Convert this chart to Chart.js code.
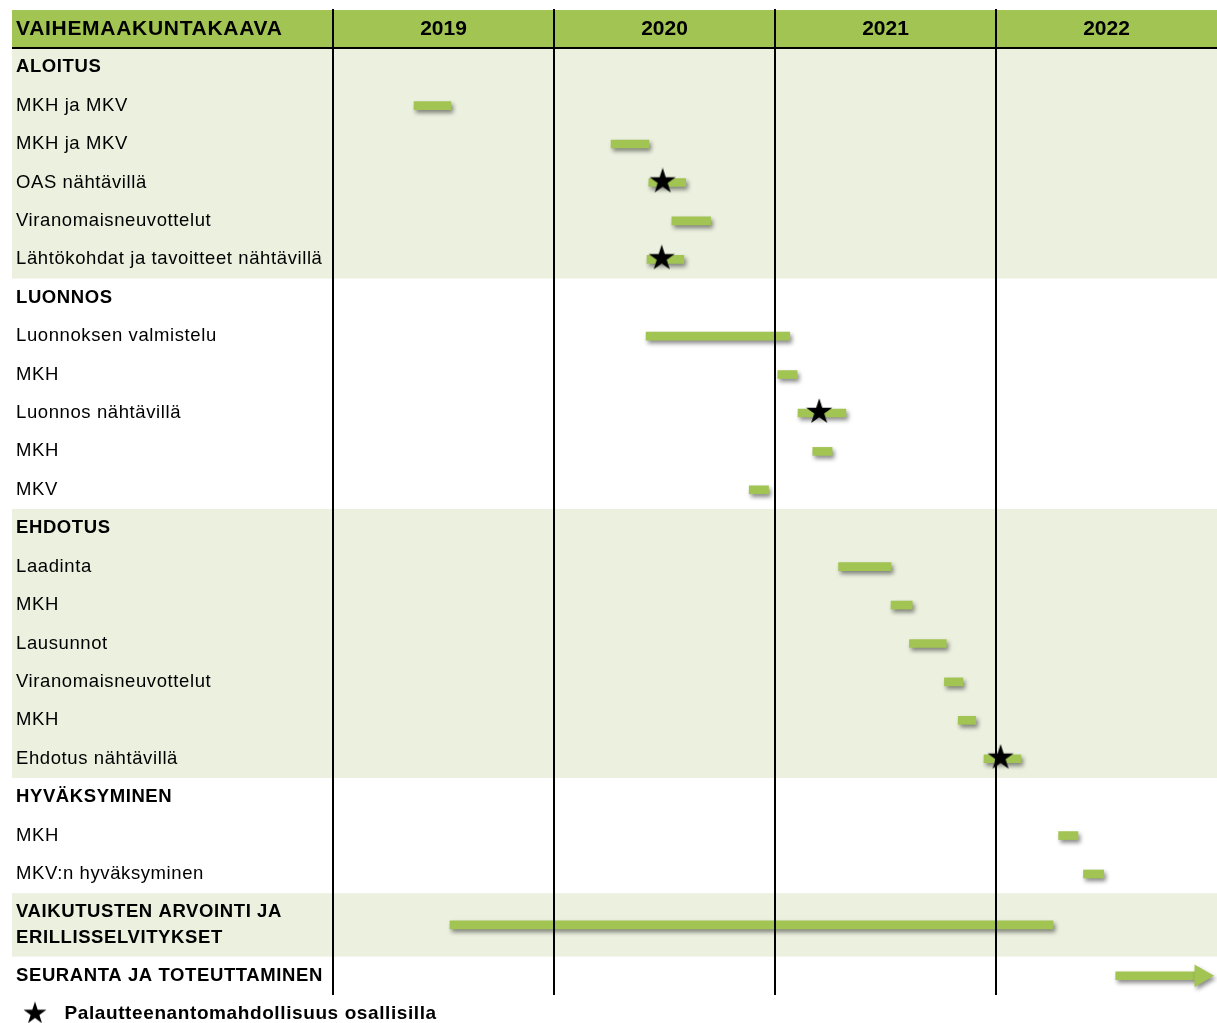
<!DOCTYPE html>
<html>
<head>
<meta charset="utf-8">
<script src="https://cdn.jsdelivr.net/npm/chart.js@4.4.1/dist/chart.umd.min.js"></script>
<style>
  html, body { margin: 0; padding: 0; background: #fff; overflow: hidden; }
  canvas { display: block; }
</style>
</head>
<body>
<canvas id="gantt" width="1217" height="1023"></canvas>
<script>
// x values are months counted from the start of 2019
const years = ['2019', '2020', '2021', '2022'];
const rowLabels = [
    'ALOITUS', 'MKH ja MKV', 'MKH ja MKV', 'OAS nähtävillä', 'Viranomaisneuvottelut', 'Lähtökohdat ja tavoitteet nähtävillä',
    'LUONNOS', 'Luonnoksen valmistelu', 'MKH', 'Luonnos nähtävillä', 'MKH', 'MKV',
    'EHDOTUS', 'Laadinta', 'MKH', 'Lausunnot', 'Viranomaisneuvottelut', 'MKH', 'Ehdotus nähtävillä',
    'HYVÄKSYMINEN', 'MKH', 'MKV:n hyväksyminen',
    ['VAIKUTUSTEN ARVOINTI JA', 'ERILLISSELVITYKSET'],
    'SEURANTA JA TOTEUTTAMINEN'
];
const sectionRows = [0, 6, 12, 19, 22, 23];
const barStart = [null, 4.4, 15.1, 17.15, 18.4, 17.05, null, 17.0, 24.15, 25.25, 26.05, 22.6,
    null, 27.45, 30.3, 31.3, 33.2, 33.95, 35.35, null, 39.4, 40.75, 6.35, 42.5];
const barEnd = [null, 6.4, 17.15, 19.15, 20.5, 19.05, null, 24.8, 25.2, 27.85, 27.1, 23.65,
    null, 30.3, 31.45, 33.3, 34.2, 34.9, 37.35, null, 40.45, 41.85, 39.1, 46.8];
const feedbackAt = [null, null, null, 17.9, null, 17.85, null, null, null, 26.4, null, null,
    null, null, null, null, null, null, 36.25, null, null, null, null, null];
const arrowHeadAt = 47.13;   // SEURANTA arrow head
const legendText = 'Palautteenantomahdollisuus osallisilla';

const FONT = '"Liberation Sans", Arial, sans-serif';
const GREEN = '#a2c453';
const BAND = '#ebf0df';

// row layout: two-line labels get a taller row
const rowSize = rowLabels.map(l => Array.isArray(l) ? 1.65 : 1);
const rowTop = [];
let total = 0;
rowSize.forEach(s => { rowTop.push(total); total += s; });
const rowCenter = rowTop.map((t, i) => t + rowSize[i] / 2);

function makeStar(w, h, cx, cy, r) {
    const c = document.createElement('canvas');
    c.width = w;
    c.height = h;
    const g = c.getContext('2d');
    g.beginPath();
    for (let i = 0; i < 10; i++) {
        const rad = i % 2 ? r * 0.382 : r;
        const a = -Math.PI / 2 + i * Math.PI / 5;
        g.lineTo(cx + rad * Math.cos(a), cy + rad * Math.sin(a));
    }
    g.closePath();
    g.fillStyle = '#000';
    g.fill();
    return c;
}
const starImg = makeStar(30, 30, 15, 14, 13.7);
const legendStar = makeStar(40, 30, 15, 15, 12);

const barData = [];
const starData = [];
rowLabels.forEach((l, i) => {
    if (barStart[i] !== null) barData.push({ x: [barStart[i], barEnd[i]], y: rowCenter[i] });
    if (feedbackAt[i] !== null) starData.push({ x: feedbackAt[i], y: rowCenter[i] });
});

const backdrop = {
    id: 'backdrop',
    beforeDraw(chart) {
        const { ctx, scales: { y } } = chart;
        ctx.save();
        sectionRows.forEach((r, k) => {
            if (k % 2) return;
            const next = sectionRows[k + 1];
            const top = y.getPixelForValue(rowTop[r]);
            const bottom = y.getPixelForValue(next === undefined ? total : rowTop[next]);
            ctx.fillStyle = BAND;
            ctx.fillRect(12, top, chart.width - 12, bottom - top);
        });
        const head = y.getPixelForValue(0);
        ctx.fillStyle = GREEN;
        ctx.fillRect(12, 10, chart.width - 12, head - 11);
        ctx.fillStyle = '#000';
        ctx.fillRect(12, head - 1, chart.width - 12, 2);
        ctx.font = 'bold 21px ' + FONT;
        ctx.letterSpacing = '0.7px';
        ctx.textBaseline = 'middle';
        ctx.fillText('VAIHEMAAKUNTAKAAVA', 16, 29);
        ctx.restore();
        ctx.letterSpacing = '0.6px';   // row labels and legend
    },
    afterDatasetsDraw(chart) {
        chart.ctx.letterSpacing = '0px';   // years
    },
    beforeDatasetDraw(chart, args) {
        if (chart.data.datasets[args.index].label === legendText) return;
        const ctx = chart.ctx;
        ctx.save();
        ctx.shadowColor = 'rgba(0,0,0,0.45)';
        ctx.shadowBlur = 4;
        ctx.shadowOffsetX = 2;
        ctx.shadowOffsetY = 3;
    },
    afterDatasetDraw(chart, args) {
        if (chart.data.datasets[args.index].label === legendText) return;
        chart.ctx.restore();
    }
};

new Chart(document.getElementById('gantt'), {
    type: 'bar',
    data: {
        datasets: [
            {
                type: 'bar', label: 'vaiheet', indexAxis: 'y', data: barData,
                backgroundColor: GREEN, borderWidth: 0, barThickness: 8, order: 2
            },
            {
                type: 'scatter', label: legendText, data: starData,
                pointStyle: starImg, pointRadius: 14, order: 0
            },
            {
                type: 'scatter', label: 'nuoli', data: [{ x: arrowHeadAt, y: rowCenter[23] }],
                pointStyle: 'triangle', rotation: 90, pointRadius: 13,
                backgroundColor: GREEN, borderWidth: 0, order: 1
            }
        ]
    },
    options: {
        responsive: false,
        animation: false,
        events: [],
        // the 2022 column runs slightly past the right edge
        layout: { autoPadding: false, padding: { left: 16, right: -3, top: 9, bottom: 0 } },
        scales: {
            x: {
                type: 'linear', position: 'top', min: 0, max: 48, offset: false,
                afterBuildTicks: axis => { axis.ticks = years.map((yr, i) => ({ value: i * 12 + 6 })); },
                afterFit: axis => { axis.height = 39; axis.paddingLeft = 0; axis.paddingRight = 0; },
                ticks: {
                    callback: (v, i) => years[i], autoSkip: false, maxRotation: 0, z: 1,
                    color: '#000', padding: -33, font: { family: FONT, size: 21, weight: 'bold' }
                },
                grid: {
                    offset: true, z: 1, lineWidth: 2, tickLength: 39,
                    color: ctx => ctx.index === undefined ? 'rgba(0,0,0,0)' : '#000'
                },
                border: { display: false }
            },
            y: {
                type: 'linear', min: 0, max: total, reverse: true, offset: false,
                afterBuildTicks: axis => { axis.ticks = rowCenter.map(v => ({ value: v })); },
                afterFit: axis => { axis.width = 317; },
                ticks: {
                    callback: (v, i) => rowLabels[i], autoSkip: false, crossAlign: 'far',
                    color: '#000',
                    font: ctx => ({
                        family: FONT, size: 18.5, lineHeight: 1.42,
                        weight: sectionRows.includes(ctx.index) ? 'bold' : 'normal'
                    })
                },
                grid: { display: false },
                border: { display: false }
            }
        },
        plugins: {
            tooltip: { enabled: false },
            legend: {
                position: 'bottom', align: 'start', maxHeight: 28,
                labels: {
                    usePointStyle: true, pointStyleWidth: 30, padding: 9, color: '#000',
                    font: { family: FONT, size: 19, weight: 'bold' },
                    generateLabels: () => [{
                        text: legendText, pointStyle: legendStar, fillStyle: '#000',
                        strokeStyle: 'rgba(0,0,0,0)', fontColor: '#000', lineWidth: 0,
                        hidden: false, datasetIndex: 1
                    }]
                }
            }
        }
    },
    plugins: [backdrop]
});
</script>
</body>
</html>
